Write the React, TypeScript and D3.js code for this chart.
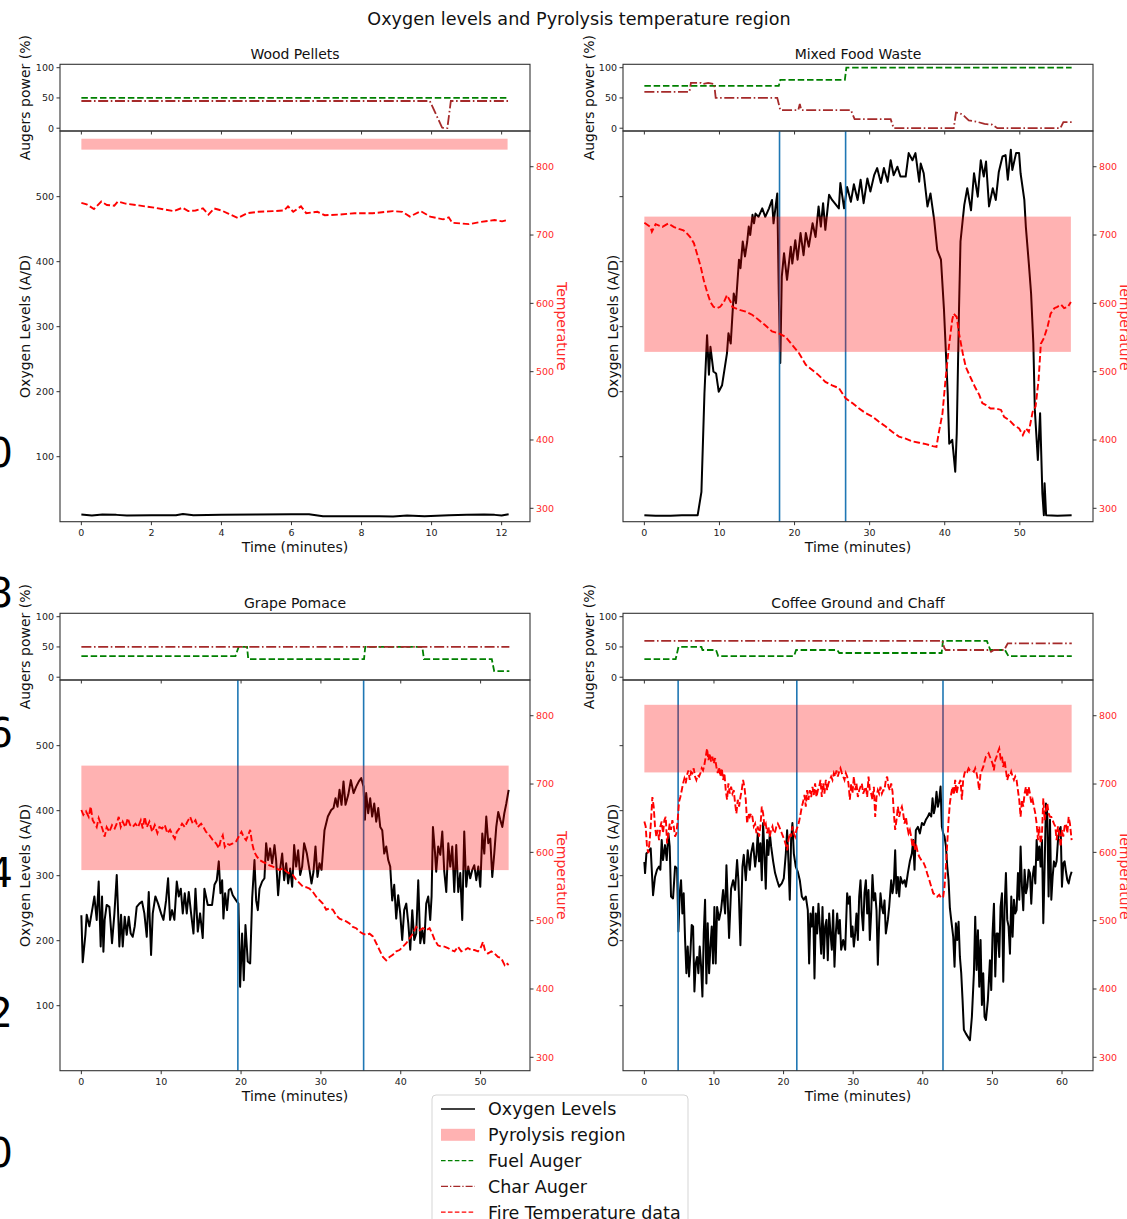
import React from "react";
import * as d3 from "d3";

type Pt = [number, number];

// ---------------- DATA ----------------
const panelTitles = ["Wood Pellets", "Mixed Food Waste", "Grape Pomace", "Coffee Ground and Chaff"];
const oxygenTicks = [100, 200, 300, 400, 500];
const tempTicks = [300, 400, 500, 600, 700, 800];
const augerTicks = [0, 50, 100];
const xTicksWood = [0, 2, 4, 6, 8, 10, 12];
const xTicksMixed = [0, 10, 20, 30, 40, 50];
const xTicksGrape = [0, 10, 20, 30, 40, 50];
const xTicksCoffee = [0, 10, 20, 30, 40, 50, 60];
const edgeLabels = ["10", "8", "6", "4", "2", "0"];
const edgeValues = [10, 8, 6, 4, 2, 0];
const legendLabels = ["Oxygen Levels", "Pyrolysis region", "Fuel Auger", "Char Auger", "Fire Temperature data"];

// Wood Pellets
const woodPyro: Pt = [825, 841];
const woodEvents: number[] = [];
const woodFuel: Pt[] = [[0, 50], [12.2, 50]];
const woodChar: Pt[] = [[0, 45], [9.95, 45], [10.3, 1], [10.35, 0], [10.45, 0], [10.55, 45], [12.2, 45]];
const woodOxygen: Pt[] = [[0, 11], [0.3, 9.5], [0.6, 11], [1.0, 10.5], [1.3, 9.5], [2.0, 10], [2.7, 10], [2.9, 12], [3.2, 10], [4.0, 10.5], [5.0, 11], [6.0, 11.5], [6.5, 11.5], [6.9, 8.5], [7.5, 8.5], [8.5, 8.5], [8.9, 8], [9.3, 9.5], [9.8, 8.5], [10.5, 10], [11.0, 10.5], [11.5, 11], [11.8, 10.5], [12.0, 9.5], [12.2, 11.5]];
const woodTemp: Pt[] = [[0, 747], [0.15, 745], [0.36, 738], [0.57, 749], [0.73, 744], [0.94, 743], [1.04, 749], [1.26, 746], [1.68, 743], [2.1, 740], [2.63, 735], [2.89, 740], [3.05, 735], [3.26, 736], [3.47, 739], [3.63, 730], [3.79, 739], [4.0, 736], [4.21, 731], [4.47, 725], [4.74, 732], [5.05, 734], [5.47, 735], [5.79, 736], [5.9, 742], [6.05, 734], [6.27, 742], [6.42, 732], [6.74, 734], [6.95, 729], [7.37, 730], [7.8, 732], [8.32, 732], [8.9, 735], [9.17, 734], [9.38, 727], [9.69, 735], [9.96, 727], [10.33, 723], [10.49, 726], [10.59, 718], [11.07, 716], [11.38, 719], [11.8, 722], [12.01, 720], [12.17, 722]];

// Mixed Food Waste
const mixedPyro: Pt = [529, 727];
const mixedEvents = [18.0, 26.8];
const mixedFuel: Pt[] = [[0, 70], [17.9, 70], [18.1, 80], [26.7, 80], [26.9, 100], [56.9, 100]];
const mixedChar: Pt[] = [[0, 60], [6.0, 60], [6.2, 75], [7.5, 75], [7.7, 73], [8.5, 75], [9.3, 73], [9.5, 50], [17.7, 50], [18.1, 30], [20.5, 30], [20.7, 40], [20.9, 30], [27.5, 30], [28.0, 15], [32.8, 15], [33.2, 0], [41.2, 0], [41.5, 26], [42.0, 25], [42.6, 20], [43.2, 13], [44.2, 11], [45.3, 7], [46.3, 6], [47.0, 0], [55.4, 0], [55.8, 10], [56.9, 10]];
const mixedOxygen: Pt[] = [[0, 10], [1.5, 9], [3.5, 9], [5, 10], [7.1, 10], [7.6, 46], [8.0, 197], [8.35, 287], [8.6, 226], [8.8, 269], [9.2, 231], [9.55, 228], [9.9, 200], [10.35, 210], [11.0, 259], [11.2, 290], [11.5, 274], [11.9, 351], [12.2, 336], [12.6, 403], [12.8, 390], [13.1, 431], [13.4, 408], [13.7, 431], [13.9, 454], [14.1, 441], [14.4, 472], [14.6, 459], [14.8, 474], [15.2, 469], [15.7, 482], [16.1, 469], [16.6, 482], [17.0, 495], [17.2, 459], [17.7, 505], [17.9, 351], [18.1, 244], [18.3, 377], [18.6, 413], [19.0, 372], [19.5, 423], [19.7, 397], [20.1, 433], [20.4, 403], [20.8, 444], [21.2, 410], [21.5, 444], [21.9, 423], [22.4, 459], [22.8, 438], [23.2, 485], [23.5, 454], [23.8, 490], [24.1, 449], [24.6, 503], [25.0, 495], [25.9, 482], [26.1, 521], [26.6, 482], [27.0, 515], [27.5, 492], [27.9, 519], [28.4, 495], [28.8, 526], [29.2, 490], [29.7, 528], [30.1, 508], [30.6, 533], [31.0, 544], [31.5, 521], [31.9, 544], [32.4, 523], [32.8, 556], [33.2, 533], [33.7, 546], [34.1, 531], [34.8, 531], [35.2, 567], [35.7, 556], [36.1, 567], [36.6, 523], [36.8, 551], [37.2, 536], [37.7, 485], [38.1, 505], [38.6, 464], [39.0, 418], [39.5, 403], [39.9, 326], [40.4, 197], [40.6, 120], [41.0, 126], [41.4, 77], [41.6, 136], [41.9, 326], [42.1, 431], [42.6, 487], [43.0, 513], [43.5, 479], [43.9, 536], [44.4, 500], [44.8, 556], [45.2, 531], [45.5, 554], [45.9, 485], [46.4, 513], [46.8, 495], [47.2, 538], [47.7, 562], [48.1, 564], [48.4, 526], [48.8, 572], [49.0, 541], [49.5, 567], [49.9, 567], [50.1, 536], [50.6, 495], [50.8, 454], [51.2, 397], [51.5, 351], [51.8, 274], [52.0, 172], [52.4, 95], [52.7, 167], [53.0, 44], [53.2, 10], [53.3, 59], [53.5, 10], [55.0, 9], [56.9, 10]];
const mixedTemp: Pt[] = [[0, 718], [0.8, 712], [1.0, 705], [1.5, 716], [2.4, 712], [3.2, 717], [3.9, 712], [4.6, 709], [5.2, 707], [5.7, 702], [6.1, 697], [6.6, 688], [7.0, 673], [7.5, 654], [7.9, 634], [8.4, 615], [8.8, 602], [9.2, 595], [9.7, 593], [10.1, 595], [10.6, 602], [11.0, 612], [11.5, 602], [11.7, 595], [12.1, 593], [12.8, 590], [13.5, 588], [14.4, 583], [15.2, 576], [16.1, 568], [17.0, 559], [17.9, 556], [18.8, 551], [19.7, 539], [20.6, 527], [21.5, 510], [22.4, 502], [23.2, 495], [24.1, 485], [25.0, 480], [25.9, 476], [26.8, 461], [27.7, 454], [28.6, 446], [29.5, 439], [30.4, 434], [31.2, 427], [32.1, 420], [33.0, 412], [33.9, 405], [34.8, 402], [35.7, 398], [36.6, 396], [37.5, 394], [38.4, 391], [38.9, 390], [39.2, 410], [39.7, 439], [40.1, 488], [40.6, 541], [41.0, 576], [41.2, 585], [41.6, 580], [41.9, 556], [42.4, 527], [42.8, 507], [43.5, 490], [44.1, 476], [44.6, 466], [45.0, 454], [45.5, 451], [46.1, 446], [46.8, 446], [47.5, 444], [47.9, 434], [48.6, 429], [49.2, 422], [49.9, 417], [50.4, 407], [50.8, 417], [51.2, 412], [51.7, 441], [52.1, 449], [52.5, 488], [52.8, 541], [53.2, 549], [53.7, 566], [54.1, 585], [54.6, 593], [55.0, 595], [55.5, 598], [55.9, 593], [56.4, 595], [56.8, 602]];

// Grape Pomace
const grapePyro: Pt = [574, 727];
const grapeEvents = [19.6, 35.35];
const grapeFuel: Pt[] = [[0, 35], [19.3, 35], [19.7, 50], [20.75, 50], [20.9, 30], [35.4, 30], [35.55, 50], [42.7, 50], [42.9, 30], [51.4, 30], [51.7, 10], [53.6, 10]];
const grapeChar: Pt[] = [[0, 50], [53.6, 50]];
const grapeOxygen: Pt[] = [[0, 239], [0.17, 167], [0.5, 209], [0.67, 240], [1.0, 222], [1.42, 252], [1.63, 268], [1.92, 232], [2.17, 291], [2.42, 191], [2.59, 268], [2.76, 183], [2.92, 232], [3.17, 255], [3.51, 252], [3.84, 196], [4.14, 242], [4.43, 301], [4.76, 191], [4.97, 240], [5.18, 191], [5.43, 237], [5.68, 209], [5.93, 237], [6.18, 211], [6.43, 206], [6.68, 222], [6.93, 252], [7.27, 257], [7.6, 260], [7.89, 242], [8.19, 206], [8.44, 275], [8.73, 178], [8.94, 242], [9.27, 268], [9.61, 257], [9.98, 242], [10.28, 232], [10.61, 262], [10.86, 296], [11.11, 232], [11.36, 247], [11.65, 232], [11.95, 291], [12.2, 268], [12.45, 280], [12.7, 242], [12.95, 273], [13.2, 242], [13.45, 275], [13.74, 242], [14.04, 211], [14.29, 280], [14.58, 214], [14.87, 242], [15.2, 204], [15.41, 280], [15.83, 255], [16.37, 255], [16.67, 286], [16.96, 293], [17.21, 322], [17.42, 273], [17.63, 293], [17.79, 234], [18.0, 273], [18.25, 247], [18.46, 278], [18.71, 280], [18.96, 270], [19.38, 262], [19.67, 257], [19.88, 129], [20.13, 211], [20.34, 139], [20.55, 224], [20.84, 168], [21.14, 165], [21.39, 265], [21.68, 324], [21.89, 262], [22.1, 247], [22.31, 280], [22.64, 291], [22.93, 296], [23.14, 350], [23.39, 324], [23.64, 342], [23.89, 319], [24.19, 347], [24.39, 324], [24.64, 270], [24.9, 311], [25.15, 334], [25.4, 293], [25.65, 319], [25.9, 288], [26.15, 311], [26.4, 283], [26.65, 347], [26.9, 314], [27.15, 339], [27.4, 301], [27.65, 314], [27.9, 350], [28.24, 334], [28.57, 309], [28.82, 288], [29.07, 306], [29.32, 345], [29.57, 298], [29.82, 319], [30.08, 309], [30.45, 370], [30.87, 391], [31.29, 401], [31.58, 404], [31.83, 419], [32.08, 406], [32.33, 432], [32.58, 409], [32.83, 445], [33.08, 409], [33.42, 424], [33.75, 447], [34.09, 427], [34.42, 437], [34.75, 445], [35.05, 450], [35.34, 437], [35.51, 386], [35.67, 427], [35.92, 396], [36.17, 419], [36.42, 391], [36.68, 411], [36.93, 383], [37.18, 404], [37.43, 375], [37.68, 370], [37.93, 334], [38.18, 345], [38.43, 324], [38.68, 314], [38.93, 262], [39.18, 286], [39.43, 234], [39.68, 270], [39.93, 242], [40.18, 201], [40.43, 247], [40.69, 257], [40.94, 227], [41.19, 186], [41.44, 247], [41.69, 201], [41.94, 211], [42.19, 293], [42.44, 196], [42.69, 216], [42.94, 196], [43.19, 257], [43.44, 268], [43.69, 232], [43.86, 268], [44.03, 375], [44.28, 337], [44.44, 306], [44.69, 345], [44.95, 332], [45.2, 368], [45.45, 306], [45.7, 275], [45.95, 350], [46.2, 314], [46.45, 345], [46.7, 275], [46.95, 347], [47.2, 275], [47.45, 304], [47.7, 232], [47.95, 368], [48.2, 283], [48.45, 314], [48.7, 296], [48.96, 309], [49.21, 316], [49.46, 293], [49.71, 314], [49.96, 283], [50.21, 365], [50.46, 334], [50.71, 391], [50.96, 350], [51.21, 357], [51.46, 298], [51.71, 334], [51.96, 375], [52.21, 398], [52.46, 386], [52.72, 375], [52.97, 396], [53.22, 411], [53.51, 432]];
const grapeTemp: Pt[] = [[0, 662], [0.25, 655], [0.58, 660], [0.92, 652], [1.17, 667], [1.42, 647], [1.67, 642], [1.92, 637], [2.17, 650], [2.42, 642], [2.67, 633], [2.92, 623], [3.17, 637], [3.51, 630], [3.84, 640], [4.18, 635], [4.43, 642], [4.68, 652], [4.93, 637], [5.18, 645], [5.51, 637], [5.81, 650], [6.1, 640], [6.43, 637], [6.77, 642], [7.1, 637], [7.44, 647], [7.69, 635], [7.94, 652], [8.19, 637], [8.52, 645], [8.86, 630], [9.19, 640], [9.52, 628], [9.77, 637], [10.11, 635], [10.44, 640], [10.78, 628], [11.11, 633], [11.45, 625], [11.7, 620], [11.95, 630], [12.28, 635], [12.61, 642], [12.95, 637], [13.28, 645], [13.62, 652], [13.95, 642], [14.29, 647], [14.58, 637], [15.0, 642], [15.29, 637], [15.62, 630], [16.04, 625], [16.46, 618], [16.88, 613], [17.21, 606], [17.46, 618], [17.71, 625], [17.96, 608], [18.21, 613], [18.55, 611], [18.96, 613], [19.38, 616], [19.8, 625], [20.05, 630], [20.3, 623], [20.63, 618], [20.89, 625], [21.14, 633], [21.39, 613], [21.64, 601], [21.97, 594], [22.31, 589], [22.72, 586], [23.14, 584], [23.56, 581], [23.98, 579], [24.39, 577], [24.81, 574], [25.23, 577], [25.65, 572], [26.07, 569], [26.48, 567], [26.9, 560], [27.32, 555], [27.74, 550], [28.15, 549], [28.57, 547], [28.99, 542], [29.41, 535], [29.82, 530], [30.24, 525], [30.66, 516], [31.08, 518], [31.5, 516], [31.91, 508], [32.33, 503], [32.75, 501], [33.17, 499], [33.58, 496], [34.0, 491], [34.42, 489], [34.84, 484], [35.25, 481], [35.67, 479], [36.09, 481], [36.51, 477], [36.93, 467], [37.34, 457], [37.76, 447], [38.18, 442], [38.6, 447], [39.01, 450], [39.43, 455], [39.85, 457], [40.27, 462], [40.69, 467], [41.1, 474], [41.52, 481], [41.94, 491], [42.36, 486], [42.77, 489], [43.19, 486], [43.61, 489], [43.94, 481], [44.24, 472], [44.65, 464], [45.07, 462], [45.49, 462], [45.91, 460], [46.33, 457], [46.74, 455], [47.16, 462], [47.58, 455], [48.0, 457], [48.41, 460], [48.83, 457], [49.25, 457], [49.67, 455], [50.08, 462], [50.29, 469], [50.54, 457], [50.92, 452], [51.34, 455], [51.75, 452], [52.17, 447], [52.59, 445], [53.01, 435], [53.22, 438], [53.51, 435]];

// Coffee Ground and Chaff
const coffeePyro: Pt = [717, 816];
const coffeeEvents = [4.85, 21.9, 42.9];
const coffeeFuel: Pt[] = [[0, 30], [4.5, 30], [4.9, 50], [8.2, 50], [8.35, 45], [10.3, 45], [10.6, 35], [21.5, 35], [21.8, 45], [27.7, 45], [28.0, 40], [42.7, 40], [42.9, 60], [49.2, 60], [49.7, 45], [51.8, 45], [52.3, 35], [61.4, 35]];
const coffeeChar: Pt[] = [[0, 60], [42.8, 60], [43.1, 48], [43.3, 45], [49.6, 45], [49.8, 42], [50.2, 45], [51.7, 45], [52.2, 56], [61.4, 56]];
const coffeeOxygen: Pt[] = [[0, 321], [0.1, 304], [0.29, 334], [0.57, 337], [0.91, 342], [1.25, 270], [1.53, 298], [1.82, 309], [2.11, 314], [2.3, 309], [2.49, 355], [2.68, 324], [2.97, 347], [3.21, 324], [3.45, 365], [3.64, 345], [3.83, 268], [4.12, 265], [4.41, 314], [4.7, 311], [4.89, 214], [5.08, 273], [5.27, 293], [5.46, 242], [5.65, 273], [5.85, 201], [6.04, 150], [6.23, 191], [6.42, 145], [6.61, 180], [6.8, 224], [7.0, 222], [7.19, 122], [7.38, 165], [7.57, 175], [7.76, 150], [7.95, 191], [8.15, 160], [8.34, 114], [8.53, 211], [8.72, 263], [8.91, 134], [9.1, 227], [9.3, 150], [9.49, 191], [9.68, 222], [9.87, 165], [10.06, 252], [10.25, 165], [10.45, 252], [10.73, 232], [11.02, 247], [11.31, 278], [11.6, 242], [11.79, 316], [11.98, 260], [12.17, 204], [12.46, 280], [12.75, 293], [13.03, 278], [13.32, 324], [13.51, 293], [13.8, 193], [14.09, 314], [14.28, 332], [14.57, 293], [14.85, 339], [15.14, 309], [15.33, 334], [15.62, 350], [15.91, 314], [16.1, 332], [16.29, 365], [16.48, 322], [16.67, 350], [16.87, 293], [17.06, 381], [17.25, 334], [17.44, 280], [17.63, 355], [17.82, 332], [18.02, 365], [18.21, 345], [18.5, 322], [18.78, 304], [19.07, 293], [19.36, 283], [19.74, 288], [20.03, 296], [20.32, 334], [20.51, 370], [20.7, 322], [20.89, 263], [21.08, 355], [21.27, 381], [21.47, 334], [21.75, 314], [22.04, 306], [22.33, 293], [22.62, 268], [22.9, 263], [23.19, 268], [23.48, 247], [23.67, 165], [23.86, 242], [24.05, 222], [24.25, 252], [24.44, 142], [24.63, 242], [24.82, 211], [25.01, 257], [25.2, 222], [25.4, 180], [25.59, 252], [25.78, 173], [25.97, 222], [26.16, 232], [26.35, 170], [26.55, 242], [26.74, 211], [26.93, 186], [27.12, 247], [27.31, 160], [27.5, 211], [27.7, 242], [27.89, 211], [28.08, 232], [28.27, 186], [28.56, 201], [28.85, 186], [29.13, 273], [29.32, 257], [29.52, 268], [29.71, 206], [29.9, 222], [30.09, 191], [30.28, 211], [30.47, 242], [30.67, 201], [30.86, 268], [31.05, 293], [31.24, 242], [31.43, 216], [31.62, 273], [31.82, 293], [32.01, 242], [32.2, 278], [32.39, 201], [32.58, 242], [32.77, 301], [32.97, 262], [33.16, 273], [33.35, 247], [33.54, 163], [33.73, 227], [33.92, 273], [34.12, 252], [34.31, 242], [34.5, 262], [34.69, 211], [34.98, 232], [35.17, 252], [35.46, 293], [35.65, 273], [35.84, 288], [36.03, 339], [36.22, 273], [36.42, 298], [36.61, 268], [36.8, 298], [37.09, 288], [37.37, 293], [37.57, 283], [37.85, 304], [38.14, 322], [38.43, 334], [38.62, 355], [38.81, 309], [39.0, 370], [39.29, 375], [39.58, 365], [39.87, 381], [40.15, 378], [40.44, 386], [40.73, 391], [40.92, 396], [41.21, 391], [41.4, 419], [41.59, 396], [41.78, 406], [41.97, 429], [42.17, 406], [42.36, 416], [42.55, 437], [42.74, 375], [42.93, 365], [43.12, 360], [43.32, 345], [43.51, 314], [43.7, 293], [43.89, 250], [44.08, 232], [44.37, 206], [44.56, 160], [44.75, 227], [44.94, 201], [45.14, 229], [45.33, 175], [45.52, 150], [45.71, 109], [45.9, 63], [46.19, 57], [46.48, 52], [46.77, 47], [47.05, 83], [47.34, 150], [47.53, 237], [47.72, 155], [47.92, 216], [48.11, 129], [48.3, 201], [48.49, 101], [48.68, 150], [48.87, 83], [49.07, 78], [49.35, 109], [49.64, 170], [49.83, 124], [50.02, 211], [50.22, 257], [50.41, 145], [50.6, 211], [50.79, 211], [50.98, 175], [51.17, 252], [51.37, 273], [51.56, 137], [51.75, 252], [51.94, 304], [52.13, 232], [52.32, 222], [52.52, 180], [52.71, 268], [52.9, 206], [53.09, 263], [53.28, 242], [53.47, 247], [53.67, 304], [53.86, 263], [54.05, 345], [54.24, 283], [54.43, 247], [54.62, 309], [54.82, 273], [55.01, 283], [55.2, 309], [55.39, 304], [55.58, 257], [55.77, 298], [55.97, 314], [56.16, 288], [56.35, 355], [56.54, 324], [56.73, 345], [56.92, 314], [57.12, 355], [57.31, 227], [57.5, 314], [57.69, 411], [57.88, 396], [58.07, 268], [58.27, 386], [58.46, 263], [58.65, 298], [58.84, 322], [59.03, 314], [59.22, 322], [59.42, 355], [59.61, 370], [59.8, 375], [59.99, 283], [60.18, 319], [60.37, 322], [60.57, 306], [60.76, 293], [60.95, 288], [61.14, 298], [61.38, 306]];
const coffeeTemp: Pt[] = [[0, 645], [0.19, 638], [0.38, 608], [0.57, 599], [0.77, 618], [0.96, 647], [1.15, 681], [1.34, 667], [1.53, 638], [1.72, 623], [1.92, 633], [2.11, 618], [2.3, 638], [2.49, 645], [2.68, 628], [2.87, 647], [3.07, 652], [3.26, 613], [3.45, 628], [3.64, 642], [3.83, 633], [4.02, 647], [4.22, 638], [4.41, 623], [4.6, 628], [4.79, 647], [4.98, 674], [5.17, 681], [5.37, 691], [5.56, 701], [5.75, 708], [5.94, 701], [6.13, 713], [6.32, 720], [6.52, 706], [6.71, 718], [6.9, 716], [7.09, 723], [7.28, 711], [7.47, 706], [7.67, 713], [7.86, 711], [8.05, 716], [8.24, 723], [8.43, 720], [8.62, 728], [8.82, 740], [9.01, 752], [9.2, 735], [9.39, 745], [9.58, 733], [9.77, 740], [9.97, 730], [10.16, 738], [10.35, 725], [10.54, 716], [10.73, 725], [10.92, 711], [11.12, 723], [11.31, 706], [11.5, 716], [11.69, 691], [11.88, 677], [12.07, 701], [12.27, 686], [12.46, 696], [12.65, 686], [12.84, 691], [13.03, 672], [13.22, 657], [13.42, 677], [13.61, 667], [13.8, 681], [13.99, 691], [14.18, 706], [14.37, 696], [14.57, 677], [14.76, 642], [14.95, 657], [15.14, 652], [15.33, 657], [15.52, 652], [15.72, 638], [15.91, 642], [16.1, 628], [16.29, 638], [16.48, 623], [16.67, 638], [16.87, 667], [17.06, 657], [17.25, 638], [17.44, 642], [17.63, 628], [17.82, 638], [18.02, 623], [18.21, 633], [18.4, 638], [18.59, 628], [18.78, 630], [18.97, 638], [19.17, 642], [19.36, 638], [19.55, 633], [19.74, 628], [19.93, 623], [20.12, 618], [20.32, 611], [20.51, 603], [20.7, 618], [20.89, 628], [21.08, 623], [21.27, 638], [21.47, 628], [21.66, 623], [21.85, 633], [22.04, 638], [22.23, 645], [22.42, 655], [22.62, 667], [22.81, 674], [23.0, 684], [23.19, 667], [23.38, 691], [23.57, 677], [23.77, 691], [23.96, 681], [24.15, 696], [24.34, 684], [24.53, 701], [24.72, 681], [24.92, 691], [25.11, 696], [25.3, 706], [25.49, 681], [25.68, 701], [25.87, 686], [26.07, 706], [26.26, 691], [26.45, 701], [26.64, 706], [26.83, 711], [27.02, 706], [27.22, 716], [27.41, 711], [27.6, 720], [27.79, 711], [27.98, 718], [28.17, 723], [28.37, 716], [28.56, 711], [28.75, 706], [28.94, 716], [29.13, 711], [29.32, 701], [29.52, 677], [29.71, 701], [29.9, 686], [30.09, 711], [30.28, 691], [30.47, 701], [30.67, 681], [30.86, 691], [31.05, 696], [31.24, 701], [31.43, 686], [31.62, 691], [31.82, 696], [32.01, 681], [32.2, 711], [32.39, 691], [32.58, 686], [32.77, 677], [32.97, 696], [33.16, 652], [33.35, 681], [33.54, 691], [33.73, 686], [33.92, 696], [34.12, 686], [34.31, 691], [34.5, 691], [34.69, 706], [34.88, 711], [35.07, 696], [35.27, 691], [35.46, 701], [35.65, 689], [35.84, 657], [36.03, 633], [36.22, 647], [36.42, 667], [36.61, 652], [36.8, 662], [36.99, 667], [37.18, 657], [37.37, 642], [37.57, 652], [37.76, 638], [37.95, 628], [38.14, 633], [38.33, 623], [38.52, 608], [38.72, 618], [38.91, 603], [39.1, 608], [39.29, 599], [39.48, 594], [39.77, 589], [40.06, 586], [40.35, 579], [40.63, 569], [40.92, 560], [41.21, 550], [41.5, 540], [41.78, 538], [42.07, 535], [42.36, 538], [42.65, 533], [42.93, 535], [43.12, 550], [43.32, 579], [43.51, 613], [43.7, 647], [43.89, 672], [44.08, 686], [44.27, 696], [44.46, 684], [44.65, 706], [44.85, 686], [45.04, 696], [45.23, 701], [45.42, 706], [45.61, 677], [45.8, 706], [46.0, 716], [46.19, 720], [46.38, 718], [46.57, 723], [46.76, 720], [46.95, 720], [47.15, 720], [47.34, 718], [47.53, 723], [47.72, 716], [47.91, 706], [48.1, 691], [48.3, 716], [48.49, 720], [48.68, 725], [48.87, 733], [49.06, 740], [49.25, 742], [49.45, 745], [49.64, 740], [49.83, 735], [50.02, 730], [50.21, 720], [50.4, 735], [50.6, 740], [50.79, 747], [50.98, 752], [51.17, 738], [51.36, 742], [51.55, 725], [51.75, 735], [51.94, 720], [52.13, 706], [52.32, 713], [52.51, 711], [52.7, 718], [52.9, 711], [53.09, 706], [53.28, 711], [53.47, 706], [53.66, 691], [53.85, 677], [54.05, 652], [54.24, 677], [54.43, 667], [54.62, 686], [54.81, 696], [55.0, 681], [55.2, 696], [55.39, 686], [55.58, 672], [55.77, 677], [55.96, 667], [56.16, 657], [56.35, 642], [56.54, 618], [56.73, 638], [56.92, 613], [57.12, 628], [57.31, 679], [57.5, 647], [57.69, 662], [57.88, 672], [58.07, 657], [58.27, 652], [58.46, 652], [58.65, 647], [58.84, 642], [59.03, 638], [59.22, 618], [59.42, 638], [59.61, 628], [59.8, 608], [59.99, 633], [60.18, 623], [60.37, 638], [60.57, 642], [60.76, 628], [60.95, 652], [61.14, 642], [61.38, 618]];

// ---------------- LAYOUT / STYLE ----------------
const W = 1127;
const H = 1219;
const FONT = "DejaVu Sans, Verdana, sans-serif";
const AX = "#333";
const TEMP_RED = "#ff2a2a";
const COL_X = [60, 623];
const ROW_Y = [0, 549];
const PLOT_W = 470;
const AUG_TOP = 64.3;
const AUG_BOT = 131;
const MAIN_BOT = 521.7;

interface Panel {
  title: string;
  col: number;
  row: number;
  oxygen: Pt[];
  temp: Pt[];
  fuel: Pt[];
  char: Pt[];
  pyro: Pt;
  events: number[];
  xTicks: number[];
}

const panels: Panel[] = [
  { title: panelTitles[0], col: 0, row: 0, oxygen: woodOxygen, temp: woodTemp, fuel: woodFuel, char: woodChar, pyro: woodPyro, events: woodEvents, xTicks: xTicksWood },
  { title: panelTitles[1], col: 1, row: 0, oxygen: mixedOxygen, temp: mixedTemp, fuel: mixedFuel, char: mixedChar, pyro: mixedPyro, events: mixedEvents, xTicks: xTicksMixed },
  { title: panelTitles[2], col: 0, row: 1, oxygen: grapeOxygen, temp: grapeTemp, fuel: grapeFuel, char: grapeChar, pyro: grapePyro, events: grapeEvents, xTicks: xTicksGrape },
  { title: panelTitles[3], col: 1, row: 1, oxygen: coffeeOxygen, temp: coffeeTemp, fuel: coffeeFuel, char: coffeeChar, pyro: coffeePyro, events: coffeeEvents, xTicks: xTicksCoffee },
];

function PanelView({ p }: { p: Panel }) {
  const x0 = COL_X[p.col];
  const dy = ROW_Y[p.row];
  const tMax = d3.max(p.oxygen, (d) => d[0]) as number;
  const x = d3.scaleLinear().domain([-0.05 * tMax, 1.05 * tMax]).range([x0, x0 + PLOT_W]);
  const yA = d3.scaleLinear().domain([-4.6, 105.6]).range([AUG_BOT + dy, AUG_TOP + dy]);
  const yO = d3.scaleLinear().domain([0, 601]).range([MAIN_BOT + dy, AUG_BOT + dy]);
  const yT = d3.scaleLinear().domain([280.4, 852.3]).range([MAIN_BOT + dy, AUG_BOT + dy]);
  const lA = d3.line<Pt>().x((d) => x(d[0])).y((d) => yA(d[1]));
  const lO = d3.line<Pt>().x((d) => x(d[0])).y((d) => yO(d[1]));
  const lT = d3.line<Pt>().x((d) => x(d[0])).y((d) => yT(d[1]));
  const x1 = x0 + PLOT_W;
  const showOxyLabels = p.col === 0;
  const midMain = (AUG_BOT + MAIN_BOT) / 2 + dy;
  const midAug = (AUG_TOP + AUG_BOT) / 2 + dy;
  const tExtent = [0, d3.max(p.temp, (d) => d[0]) as number];
  return (
    <g>
      <text x={(x0 + x1) / 2} y={AUG_TOP + dy - 5.5} textAnchor="middle" fontSize={14} fill="#111" fontFamily={FONT}>{p.title}</text>
      {/* augers subplot */}
      <path d={lA(p.fuel) || ""} fill="none" stroke="#008000" strokeWidth={1.8} strokeDasharray="6.5,2.8" />
      <path d={lA(p.char) || ""} fill="none" stroke="#a52a2a" strokeWidth={1.8} strokeDasharray="10,2.6,1.6,2.6" />
      <rect x={x0} y={AUG_TOP + dy} width={PLOT_W} height={AUG_BOT - AUG_TOP} fill="none" stroke={AX} strokeWidth={1.1} />
      {augerTicks.map((t) => (
        <g key={"a" + t}>
          <line x1={x0 - 3.5} x2={x0} y1={yA(t)} y2={yA(t)} stroke={AX} strokeWidth={1} />
          <text x={x0 - 6} y={yA(t)} dy="0.35em" textAnchor="end" fontSize={9.5} fill="#222" fontFamily={FONT}>{t}</text>
        </g>
      ))}
      {p.xTicks.map((t) => (
        <line key={"ax" + t} x1={x(t)} x2={x(t)} y1={AUG_BOT + dy} y2={AUG_BOT + dy + 3.5} stroke={AX} strokeWidth={1} />
      ))}
      <text transform={`translate(${x0 - (p.col === 0 ? 35 : 34)},${midAug}) rotate(-90)`} textAnchor="middle" dy="0.35em" fontSize={14} fill="#111" fontFamily={FONT}>Augers power (%)</text>
      {/* main subplot */}
      <path d={lO(p.oxygen) || ""} fill="none" stroke="#000" strokeWidth={2} strokeLinejoin="round" />
      {p.events.map((e, i) => (
        <line key={"ev" + i} x1={x(e)} x2={x(e)} y1={AUG_BOT + dy} y2={MAIN_BOT + dy} stroke="#1f77b4" strokeWidth={1.6} />
      ))}
      <rect x={x(tExtent[0])} y={yT(p.pyro[1])} width={x(tExtent[1]) - x(tExtent[0])} height={yT(p.pyro[0]) - yT(p.pyro[1])} fill="#ff0000" fillOpacity={0.3} />
      <path d={lT(p.temp) || ""} fill="none" stroke="#ff0000" strokeWidth={1.9} strokeDasharray="6.5,2.8" />
      <rect x={x0} y={AUG_BOT + dy} width={PLOT_W} height={MAIN_BOT - AUG_BOT} fill="none" stroke={AX} strokeWidth={1.1} />
      {oxygenTicks.map((t) => (
        <g key={"o" + t}>
          <line x1={x0 - 3.5} x2={x0} y1={yO(t)} y2={yO(t)} stroke={AX} strokeWidth={1} />
          {showOxyLabels && (
            <text x={x0 - 6} y={yO(t)} dy="0.35em" textAnchor="end" fontSize={9.5} fill="#222" fontFamily={FONT}>{t}</text>
          )}
        </g>
      ))}
      {tempTicks.map((t) => (
        <g key={"t" + t}>
          <line x1={x1} x2={x1 + 3.5} y1={yT(t)} y2={yT(t)} stroke={AX} strokeWidth={1} />
          <text x={x1 + 6} y={yT(t)} dy="0.35em" textAnchor="start" fontSize={9.5} fill={TEMP_RED} fontFamily={FONT}>{t}</text>
        </g>
      ))}
      {p.xTicks.map((t) => (
        <g key={"x" + t}>
          <line x1={x(t)} x2={x(t)} y1={MAIN_BOT + dy} y2={MAIN_BOT + dy + 3.5} stroke={AX} strokeWidth={1} />
          <text x={x(t)} y={MAIN_BOT + dy + 14.5} textAnchor="middle" fontSize={9.5} fill="#222" fontFamily={FONT}>{t}</text>
        </g>
      ))}
      <text x={(x0 + x1) / 2} y={MAIN_BOT + dy + 30.5} textAnchor="middle" fontSize={14} fill="#111" fontFamily={FONT}>Time (minutes)</text>
      <text transform={`translate(${showOxyLabels ? x0 - 35 : x0 - 10},${midMain}) rotate(-90)`} textAnchor="middle" dy="0.35em" fontSize={14} fill="#111" fontFamily={FONT}>Oxygen Levels (A/D)</text>
      <text transform={`translate(${x1 + 32},${midMain}) rotate(90)`} textAnchor="middle" dy="0.35em" fontSize={14} fill={TEMP_RED} fontFamily={FONT}>Temperature</text>
    </g>
  );
}

function Legend() {
  const lx = 432;
  const ly = 1095;
  const rowH = 25.8;
  const y0 = 1109;
  return (
    <g fontFamily={FONT}>
      <rect x={lx} y={ly} width={256} height={140} rx={4} fill="#fff" fillOpacity={0.9} stroke="#d5d5d5" strokeWidth={1} />
      {legendLabels.map((lab, i) => {
        const cy = y0 + i * rowH;
        let handle: React.ReactNode = null;
        if (i === 0) handle = <line x1={441} x2={475} y1={cy} y2={cy} stroke="#000" strokeWidth={1.5} />;
        if (i === 1) handle = <rect x={441} y={cy - 6} width={34} height={12} fill="#ff0000" fillOpacity={0.3} />;
        if (i === 2) handle = <line x1={441} x2={475} y1={cy} y2={cy} stroke="#008000" strokeWidth={1.3} strokeDasharray="4.6,2.3" />;
        if (i === 3) handle = <line x1={441} x2={475} y1={cy} y2={cy} stroke="#a52a2a" strokeWidth={1.3} strokeDasharray="7,2,1.3,2" />;
        if (i === 4) handle = <line x1={441} x2={475} y1={cy} y2={cy} stroke="#ff0000" strokeWidth={1.3} strokeDasharray="4.6,2.3" />;
        return (
          <g key={lab}>
            {handle}
            <text x={488} y={cy} dy="0.36em" fontSize={17.5} fill="#111">{lab}</text>
          </g>
        );
      })}
    </g>
  );
}

export default function App() {
  const yEdge = d3.scaleLinear().domain([0, 10]).range([1153, 453]);
  return (
    <svg width={W} height={H} viewBox={`0 0 ${W} ${H}`} style={{ position: "absolute", left: 0, top: 0, background: "#fff" }}>
      <rect x={0} y={0} width={W} height={H} fill="#fff" />
      <text x={579} y={25} textAnchor="middle" fontSize={17.6} fill="#111" fontFamily={FONT}>Oxygen levels and Pyrolysis temperature region</text>
      {edgeValues.map((v, i) => (
        <text key={"e" + i} x={13} y={yEdge(v)} dy="0.36em" textAnchor="end" fontSize={40} fill="#000" fontFamily={FONT}>{edgeLabels[i]}</text>
      ))}
      {panels.map((p, i) => (
        <PanelView key={i} p={p} />
      ))}
      <Legend />
    </svg>
  );
}
